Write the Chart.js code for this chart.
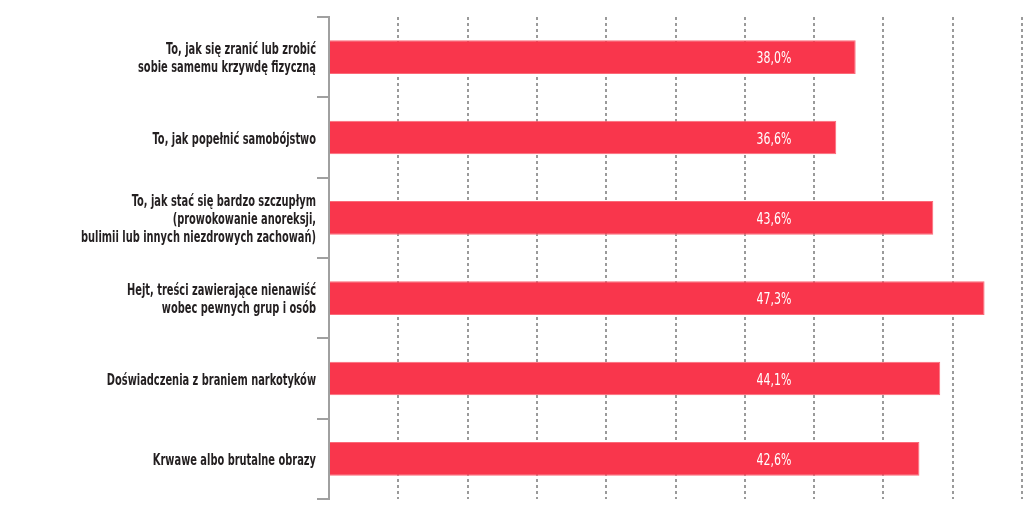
<!DOCTYPE html>
<html>
<head>
<meta charset="utf-8">
<script src="https://cdn.jsdelivr.net/npm/chart.js@4"></script>
<style>
  html, body { margin: 0; padding: 0; background: #ffffff; }
  #wrap { width: 1024px; height: 531px; }
</style>
</head>
<body>
<div id="wrap"><canvas id="c" width="1024" height="531"></canvas></div>
<script>
const categories = [
  ["To, jak się zranić lub zrobić", "sobie samemu krzywdę fizyczną"],
  ["To, jak popełnić samobójstwo"],
  ["To, jak stać się bardzo szczupłym", "(prowokowanie anoreksji,", "bulimii lub innych niezdrowych zachowań)"],
  ["Hejt, treści zawierające nienawiść", "wobec pewnych grup i osób"],
  ["Doświadczenia z braniem narkotyków"],
  ["Krwawe albo brutalne obrazy"]
];
const values = [38.0, 36.6, 43.6, 47.3, 44.1, 42.6];
const valueLabels = ["38,0%", "36,6%", "43,6%", "47,3%", "44,1%", "42,6%"];
const xTicks = [0, 5, 10, 15, 20, 25, 30, 35, 40, 45, 50];
const LABEL_AT = 32.1;

const FONT = '"DejaVu Sans Condensed", "DejaVu Sans", sans-serif';
const CAT_SCALE_X = 0.685;
const VAL_SCALE_X = 0.76;
const AXIS_GREY = '#a0a0a0';

const textPlugin = {
  id: 'condensedText',
  afterDraw(chart) {
    const ctx = chart.ctx;
    const ys = chart.scales.y;
    const xs = chart.scales.x;
    ctx.save();
    // category boundary tick marks (incl. first and last)
    ctx.strokeStyle = AXIS_GREY;
    ctx.lineWidth = 2;
    const n = categories.length;
    const step = (ys.bottom - ys.top) / n;
    for (let k = 0; k <= n; k++) {
      const y = Math.round(ys.top + k * step);
      ctx.beginPath();
      ctx.moveTo(ys.right - 12, y);
      ctx.lineTo(ys.right, y);
      ctx.stroke();
    }
    // category labels
    ctx.fillStyle = '#231f20';
    ctx.font = 'bold 16px ' + FONT;
    ctx.textAlign = 'right';
    ctx.textBaseline = 'alphabetic';
    const lh = 18;
    const rightX = ys.right - 12 - 1;
    categories.forEach((lines, i) => {
      const yc = ys.getPixelForTick(i);
      const m = lines.length;
      lines.forEach((line, j) => {
        const yBase = yc + (j - (m - 1) / 2) * lh + 6;
        ctx.save();
        ctx.translate(rightX, yBase);
        ctx.scale(CAT_SCALE_X, 1);
        ctx.fillText(line, 0, 0);
        ctx.restore();
      });
    });
    // value labels
    const meta = chart.getDatasetMeta(0);
    ctx.fillStyle = '#ffffff';
    ctx.font = '16px ' + FONT;
    ctx.textAlign = 'center';
    meta.data.forEach((bar, i) => {
      ctx.save();
      ctx.translate(xs.getPixelForValue(LABEL_AT), bar.y + 6);
      ctx.scale(VAL_SCALE_X, 1);
      ctx.fillText(valueLabels[i], 0, 0);
      ctx.restore();
    });
    ctx.restore();
  }
};

new Chart(document.getElementById('c'), {
  type: 'bar',
  data: {
    labels: categories.map(l => l.join(' ')),
    datasets: [{
      data: values,
      backgroundColor: '#f9364c',
      borderColor: '#fb6a78',
      borderWidth: 1,
      borderSkipped: 'left',
      barPercentage: 0.42,
      categoryPercentage: 1.0
    }]
  },
  options: {
    indexAxis: 'y',
    responsive: false,
    animation: false,
    devicePixelRatio: 1,
    layout: { padding: { top: 17, right: 2, bottom: 32, left: 0 } },
    plugins: {
      legend: { display: false },
      tooltip: { enabled: false },
      title: { display: false }
    },
    scales: {
      x: {
        min: 0,
        max: 50,
        afterBuildTicks(scale) { scale.ticks = xTicks.map(v => ({ value: v })); },
        afterFit(scale) { scale.height = 0; },
        ticks: { display: false },
        grid: {
          display: true,
          drawTicks: false,
          color: (ctx) => ctx.tick && ctx.tick.value === 0 ? 'rgba(0,0,0,0)' : '#9a9a9a',
          lineWidth: 2
        },
        border: { display: false, dash: [3, 3] }
      },
      y: {
        afterFit(scale) { scale.width = 329; },
        ticks: { display: false },
        grid: { display: false },
        border: { display: true, color: AXIS_GREY, width: 2 }
      }
    }
  },
  plugins: [textPlugin]
});
</script>
</body>
</html>
